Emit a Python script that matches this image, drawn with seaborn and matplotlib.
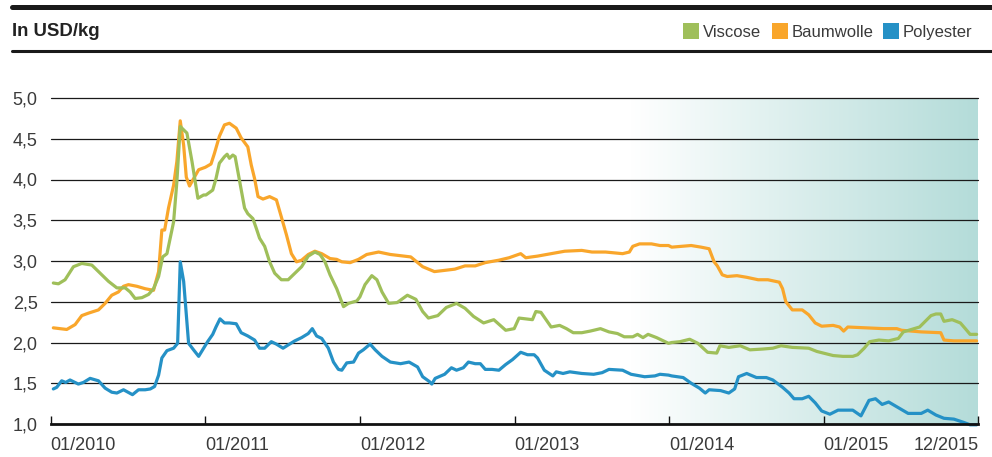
import numpy as np
import pandas as pd
import matplotlib
matplotlib.use("Agg")
import matplotlib.pyplot as plt
import seaborn as sns
from matplotlib.colors import LinearSegmentedColormap
from matplotlib.patches import Rectangle
from matplotlib.lines import Line2D

# ---------------- data (decimal year, USD/kg) ----------------
viscose_year = [
    2010.017, 2010.050, 2010.093, 2010.147, 2010.201, 2010.266, 2010.320, 2010.374, 2010.428, 2010.482,
    2010.514, 2010.546, 2010.590, 2010.633, 2010.665, 2010.698, 2010.724, 2010.752, 2010.773, 2010.795,
    2010.816, 2010.838, 2010.881, 2010.914, 2010.952, 2010.989,
    2011.004, 2011.048, 2011.069, 2011.091, 2011.124, 2011.141, 2011.156, 2011.178, 2011.193, 2011.221,
    2011.254, 2011.275, 2011.308, 2011.330, 2011.351, 2011.384, 2011.416, 2011.449, 2011.492, 2011.536,
    2011.579, 2011.623, 2011.666, 2011.709, 2011.742, 2011.774, 2011.807, 2011.850, 2011.894, 2011.926,
    2011.980,
    2012.000, 2012.033, 2012.077, 2012.110, 2012.143, 2012.186, 2012.241, 2012.307, 2012.362, 2012.406,
    2012.443, 2012.504, 2012.559, 2012.625, 2012.680, 2012.735, 2012.800, 2012.866, 2012.943, 2012.998,
    2013.029, 2013.073, 2013.116, 2013.138, 2013.171, 2013.204, 2013.237, 2013.292, 2013.336, 2013.380,
    2013.435, 2013.490, 2013.556, 2013.611, 2013.666, 2013.710, 2013.765, 2013.796, 2013.831, 2013.864,
    2013.919, 2013.974, 2013.996,
    2014.017, 2014.070, 2014.133, 2014.186, 2014.249, 2014.308, 2014.329, 2014.386, 2014.460, 2014.523,
    2014.608, 2014.671, 2014.724, 2014.797, 2014.903, 2014.956,
    2015.061, 2015.124, 2015.188, 2015.219, 2015.262, 2015.297, 2015.357, 2015.420, 2015.483, 2015.515,
    2015.568, 2015.620, 2015.652, 2015.694, 2015.726, 2015.757, 2015.778, 2015.831, 2015.884, 2015.916,
    2015.947, 2015.989]
viscose_value = [
    2.73, 2.72, 2.77, 2.93, 2.97, 2.95, 2.85, 2.75, 2.67, 2.67,
    2.62, 2.54, 2.55, 2.59, 2.66, 2.81, 3.05, 3.09, 3.28, 3.48,
    3.97, 4.65, 4.57, 4.22, 3.77, 3.81,
    3.81, 3.87, 4.01, 4.20, 4.28, 4.31, 4.26, 4.30, 4.28, 3.99,
    3.65, 3.58, 3.52, 3.40, 3.28, 3.18, 2.99, 2.85, 2.77, 2.77,
    2.85, 2.93, 3.06, 3.11, 3.08, 2.99, 2.83, 2.66, 2.44, 2.48,
    2.51,
    2.56, 2.71, 2.82, 2.77, 2.62, 2.48, 2.49, 2.58, 2.53, 2.38,
    2.30, 2.33, 2.43, 2.48, 2.42, 2.32, 2.24, 2.28, 2.15, 2.17,
    2.30, 2.29, 2.28, 2.38, 2.37, 2.28, 2.19, 2.21, 2.17, 2.12,
    2.12, 2.14, 2.17, 2.13, 2.11, 2.07, 2.07, 2.10, 2.06, 2.10,
    2.06, 2.01, 1.99,
    2.00, 2.01, 2.04, 1.99, 1.88, 1.87, 1.96, 1.94, 1.96, 1.91,
    1.92, 1.93, 1.96, 1.94, 1.93, 1.89,
    1.84, 1.83, 1.83, 1.85, 1.93, 2.01, 2.03, 2.02, 2.05, 2.13,
    2.16, 2.19, 2.25, 2.33, 2.35, 2.35, 2.26, 2.28, 2.24, 2.17,
    2.10, 2.10]

baumwolle_year = [
    2010.017, 2010.060, 2010.104, 2010.158, 2010.201, 2010.244, 2010.309, 2010.352, 2010.395, 2010.438,
    2010.471, 2010.503, 2010.557, 2010.611, 2010.665, 2010.698, 2010.719, 2010.737, 2010.762, 2010.795,
    2010.816, 2010.838, 2010.860, 2010.877, 2010.898, 2010.924, 2010.957, 2011.000,
    2011.037, 2011.059, 2011.091, 2011.124, 2011.156, 2011.200, 2011.232, 2011.275, 2011.297, 2011.319,
    2011.341, 2011.373, 2011.416, 2011.460, 2011.492, 2011.525, 2011.557, 2011.590, 2011.623, 2011.666,
    2011.709, 2011.753, 2011.807, 2011.850, 2011.883, 2011.937, 2011.991,
    2012.044, 2012.121, 2012.197, 2012.329, 2012.406, 2012.482, 2012.614, 2012.680, 2012.746, 2012.811,
    2012.899, 2012.965,
    2013.040, 2013.073, 2013.149, 2013.237, 2013.325, 2013.435, 2013.501, 2013.589, 2013.699, 2013.743,
    2013.765, 2013.809, 2013.886, 2013.941, 2013.996,
    2014.017, 2014.080, 2014.143, 2014.207, 2014.259, 2014.291, 2014.312, 2014.344, 2014.376, 2014.439,
    2014.502, 2014.576, 2014.639, 2014.713, 2014.734, 2014.755, 2014.797, 2014.861, 2014.903, 2014.945,
    2014.987,
    2015.061, 2015.103, 2015.129, 2015.156, 2015.272, 2015.388, 2015.473, 2015.504, 2015.631, 2015.757,
    2015.778, 2015.842, 2015.926, 2015.989]
baumwolle_value = [
    2.18, 2.17, 2.16, 2.22, 2.33, 2.36, 2.40, 2.48, 2.58, 2.62,
    2.69, 2.71, 2.69, 2.66, 2.64, 2.87, 3.38, 3.38, 3.65, 3.93,
    4.22, 4.72, 4.42, 4.03, 3.92, 4.01, 4.12, 4.15,
    4.19, 4.32, 4.53, 4.67, 4.69, 4.63, 4.51, 4.40, 4.18, 4.01,
    3.79, 3.76, 3.79, 3.75, 3.54, 3.32, 3.09, 2.99, 3.01, 3.08,
    3.12, 3.09, 3.03, 3.02, 2.99, 2.98, 3.02,
    3.08, 3.11, 3.08, 3.05, 2.93, 2.87, 2.90, 2.94, 2.94, 2.98,
    3.01, 3.04,
    3.09, 3.04, 3.06, 3.09, 3.12, 3.13, 3.11, 3.11, 3.09, 3.11,
    3.18, 3.21, 3.21, 3.19, 3.19,
    3.17, 3.18, 3.19, 3.17, 3.15, 2.99, 2.94, 2.83, 2.81, 2.82,
    2.80, 2.77, 2.77, 2.74, 2.66, 2.50, 2.40, 2.40, 2.34, 2.24,
    2.20,
    2.21, 2.19, 2.14, 2.19, 2.18, 2.17, 2.17, 2.15, 2.13, 2.12,
    2.03, 2.02, 2.02, 2.02]

polyester_year = [
    2010.017, 2010.039, 2010.071, 2010.097, 2010.125, 2010.179, 2010.212, 2010.255, 2010.309, 2010.352,
    2010.395, 2010.428, 2010.471, 2010.529, 2010.568, 2010.611, 2010.644, 2010.672, 2010.698, 2010.719,
    2010.752, 2010.795, 2010.821, 2010.838, 2010.860, 2010.892, 2010.924, 2010.957, 2010.989,
    2011.015, 2011.048, 2011.069, 2011.095, 2011.124, 2011.156, 2011.200, 2011.232, 2011.275, 2011.319,
    2011.351, 2011.384, 2011.427, 2011.460, 2011.503, 2011.536, 2011.579, 2011.623, 2011.666, 2011.692,
    2011.720, 2011.753, 2011.796, 2011.829, 2011.861, 2011.883, 2011.915, 2011.959, 2011.991,
    2012.022, 2012.066, 2012.099, 2012.143, 2012.197, 2012.263, 2012.318, 2012.373, 2012.406, 2012.450,
    2012.465, 2012.487, 2012.548, 2012.592, 2012.625, 2012.669, 2012.702, 2012.746, 2012.779, 2012.811,
    2012.855, 2012.899, 2012.943, 2012.987,
    2013.040, 2013.084, 2013.127, 2013.149, 2013.193, 2013.248, 2013.270, 2013.314, 2013.358, 2013.435,
    2013.512, 2013.567, 2013.611, 2013.699, 2013.754, 2013.842, 2013.908, 2013.941, 2013.996,
    2014.017, 2014.091, 2014.143, 2014.196, 2014.234, 2014.259, 2014.333, 2014.386, 2014.424, 2014.449,
    2014.502, 2014.565, 2014.629, 2014.671, 2014.734, 2014.776, 2014.808, 2014.861, 2014.903, 2014.945,
    2014.987,
    2015.040, 2015.093, 2015.188, 2015.241, 2015.293, 2015.335, 2015.378, 2015.420, 2015.483, 2015.546,
    2015.631, 2015.673, 2015.726, 2015.778, 2015.842, 2015.905, 2015.947, 2015.989]
polyester_value = [
    1.43, 1.45, 1.53, 1.51, 1.54, 1.49, 1.51, 1.56, 1.53, 1.44,
    1.39, 1.38, 1.42, 1.36, 1.42, 1.42, 1.43, 1.46, 1.60, 1.81,
    1.90, 1.93, 1.99, 2.99, 2.75, 1.99, 1.91, 1.83, 1.93,
    2.01, 2.10, 2.19, 2.29, 2.24, 2.24, 2.23, 2.12, 2.08, 2.03,
    1.93, 1.93, 2.01, 1.98, 1.93, 1.97, 2.02, 2.06, 2.11, 2.17,
    2.08, 2.05, 1.93, 1.76, 1.67, 1.66, 1.75, 1.76, 1.87,
    1.91, 1.98, 1.91, 1.83, 1.76, 1.74, 1.76, 1.70, 1.58, 1.52,
    1.49, 1.56, 1.61, 1.69, 1.66, 1.69, 1.76, 1.74, 1.74, 1.67,
    1.67, 1.66, 1.73, 1.79,
    1.88, 1.85, 1.85, 1.81, 1.66, 1.59, 1.64, 1.62, 1.64, 1.62,
    1.61, 1.63, 1.67, 1.66, 1.61, 1.58, 1.59, 1.61, 1.60,
    1.59, 1.57, 1.50, 1.44, 1.38, 1.42, 1.41, 1.38, 1.43, 1.58,
    1.62, 1.57, 1.57, 1.54, 1.45, 1.38, 1.31, 1.31, 1.34, 1.26,
    1.16,
    1.12, 1.17, 1.17, 1.10, 1.29, 1.31, 1.24, 1.27, 1.20, 1.13,
    1.13, 1.17, 1.11, 1.07, 1.06, 1.02, 0.99, 0.99]

series_names = ["Viscose", "Baumwolle", "Polyester"]
series_colors = ["#9fbf5a", "#f9a62b", "#2591c6"]
tick_years = [2010, 2011, 2012, 2013, 2014, 2015, 2016]
tick_labels = ["01/2010", "01/2011", "01/2012", "01/2013", "01/2014", "01/2015", "12/2015"]
y_ticks = [1.0, 1.5, 2.0, 2.5, 3.0, 3.5, 4.0, 4.5, 5.0]
title = "In USD/kg"
forecast_start = 2013.75

# ---------------- build table ----------------
df = pd.concat([
    pd.DataFrame({"year": viscose_year, "value": viscose_value, "series": "Viscose"}),
    pd.DataFrame({"year": baumwolle_year, "value": baumwolle_value, "series": "Baumwolle"}),
    pd.DataFrame({"year": polyester_year, "value": polyester_value, "series": "Polyester"}),
], ignore_index=True)

sns.set_theme(style="white")
plt.rcParams['font.family'] = ['Liberation Sans', 'DejaVu Sans']

W, H = 992, 457
fig = plt.figure(figsize=(W / 100, H / 100), dpi=100)
ax = fig.add_axes([50.7 / W, 33 / H, (978.3 - 50.7) / W, 326 / H])

# gradient shading
cmap = LinearSegmentedColormap.from_list("shade", ["#ffffff", "#b4dcd9"])
ax.imshow(np.linspace(0, 1, 256).reshape(1, -1), extent=[forecast_start, 2016, 1, 5],
          aspect="auto", cmap=cmap, zorder=0, interpolation="bilinear")

for yv in y_ticks[1:]:
    ax.axhline(yv, color="#1a1a1a", lw=0.9, zorder=1)

palette = dict(zip(series_names, series_colors))
sns.lineplot(data=df, x="year", y="value", hue="series",
             hue_order=["Baumwolle", "Viscose", "Polyester"], palette=palette,
             estimator=None, sort=False, linewidth=2.3, legend=False, ax=ax, zorder=3)
for ln in ax.get_lines():
    ln.set_clip_on(False)
    ln.set_solid_joinstyle("round")
    ln.set_solid_capstyle("round")

ax.set_xlim(2010, 2016)
ax.set_ylim(1, 5)
ax.set_xlabel("")
ax.set_ylabel("")

for s in ["top", "right", "left"]:
    ax.spines[s].set_visible(False)
ax.spines["bottom"].set_color("#111111")
ax.spines["bottom"].set_linewidth(2.0)
ax.spines["bottom"].set_zorder(4)

ax.set_xticks(tick_years)
ax.set_xticklabels(tick_labels)
for i, lab in enumerate(ax.get_xticklabels()):
    lab.set_ha("right" if i == len(tick_labels) - 1 else "left")
ax.tick_params(axis="x", direction="in", length=6, width=1.0, color="#111111",
               pad=9, labelsize=13, labelcolor="#3a3a3a", bottom=True)
ax.set_yticks(y_ticks)
ax.set_yticklabels([f"{v:.1f}".replace(".", ",") for v in y_ticks])
ax.tick_params(axis="y", length=0, pad=9.5, labelsize=13, labelcolor="#3a3a3a")
ax.grid(False)

# header
fig.add_artist(Line2D([12 / W, 1], [1 - 6.5 / H] * 2, lw=3.6, color="#1a1a1a"))
fig.add_artist(Line2D([12 / W, 1], [1 - 51.3 / H] * 2, lw=2.2, color="#1a1a1a"))
fig.text(12 / W, 1 - 35.6 / H, title, fontsize=13.4, fontweight="bold",
         va="baseline", ha="left", color="#222222")

# legend
leg_sq_x = [683, 772, 883]
for name, col, sx in zip(series_names, series_colors, leg_sq_x):
    fig.add_artist(Rectangle((sx / W, 1 - 39 / H), 16 / W, 16 / H,
                             transform=fig.transFigure, color=col, lw=0))
    fig.text((sx + 20) / W, 1 - 37.3 / H, name, fontsize=12, va="baseline",
             ha="left", color="#3a3a3a")

fig.savefig("out.png", dpi=100)
